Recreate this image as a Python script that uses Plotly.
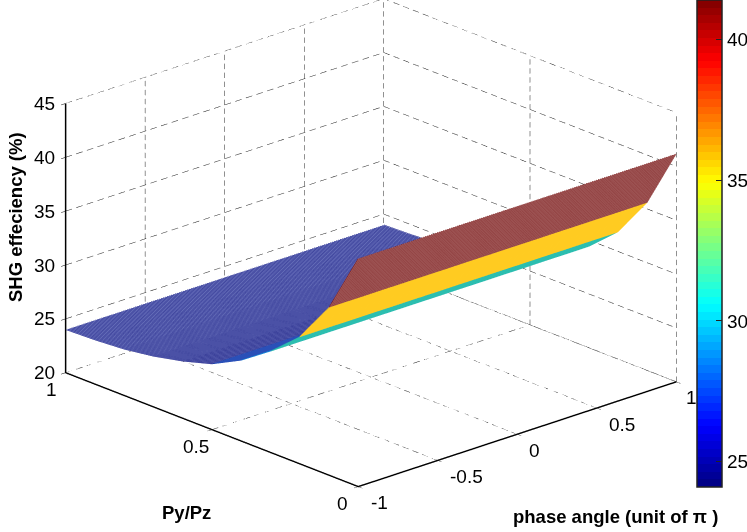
import numpy as np
import plotly.graph_objects as go

phase_ticks = [-1, -0.5, 0, 0.5, 1]
phase_labels = ["-1", "-0.5", "0", "0.5", "1"]
py_ticks = [0, 0.5, 1]
py_labels = ["0", "0.5", "1"]
z_ticks = [20, 25, 30, 35, 40, 45]
cbar_ticks = [25, 30, 35, 40]
py_vals = [0, 0.1, 0.2, 0.3, 0.4, 0.5, 0.6, 0.7, 0.8, 0.9, 1.0]
eff_vals = [41.2, 35.6, 31.8, 29.4, 27.5, 26.1, 25.3, 24.7, 24.3, 24.1, 24.0]
phase_vals = [round(-1 + i * 0.0125, 4) for i in range(161)]
band_fill = ["#9c5252", "#ffcc22", "#2dbfb0", "#2a9fe0", "#4a70cc", "#6a72bc", "#6a72bc", "#6a72bc", "#6a72bc", "#6a72bc"]
band_line = ["#7a1616", "#ffc81a", "#28b5aa", "#1888d8", "#2a50b8", "#2b3090", "#2b3090", "#2b3090", "#2b3090", "#2b3090"]
ZMIN, ZMAX = 24.1, 41.4

def jet_rgb(t):
    r = np.clip(min(4*t-1.5, -4*t+4.5), 0, 1)
    g = np.clip(min(4*t-0.5, -4*t+3.5), 0, 1)
    b = np.clip(min(4*t+0.5, -4*t+2.5), 0, 1)
    return np.array([r, g, b])
def css(c):
    return "rgb(%d,%d,%d)" % tuple(int(v*255) for v in c)
scale = []
for i in range(64):
    c = jet_rgb((i+0.5)/64)
    scale += [[i/64, css(c)], [(i+1)/64, css(c)]]
def steps(cols):
    n = len(cols)
    out = []
    for i, c in enumerate(cols):
        out += [[i/n, c], [(i+1)/n, c]]
    return out
NB = len(band_fill)

rows_y, rows_z, rows_b = [], [], []
for i in range(len(py_vals)-1):
    rows_y += [py_vals[i], py_vals[i+1]-1e-4]
    rows_z += [eff_vals[i], eff_vals[i+1]]
    rows_b += [i, i]
Z = np.tile(np.array(rows_z)[:, None], (1, len(phase_vals)))
C = np.tile(np.array(rows_b, float)[:, None], (1, len(phase_vals)))

fig = go.Figure()

# dashed grid on the floor and the two back walls, drawn as short strokes
gx, gy, gz = [], [], []
def seg(a, b, n=30):
    a, b = np.array(a, float), np.array(b, float)
    for k in range(n):
        p = a + (b-a)*k/n
        q = a + (b-a)*(k+0.6)/n
        gx.extend([p[0], q[0], None]); gy.extend([p[1], q[1], None]); gz.extend([p[2], q[2], None])
for x in phase_ticks:
    seg((x, 0, 20), (x, 1, 20))
    seg((x, 1, 20), (x, 1, 45))
for y in py_ticks:
    seg((-1, y, 20), (1, y, 20))
    seg((1, y, 20), (1, y, 45))
for z in z_ticks:
    seg((-1, 1, z), (1, 1, z))
    seg((1, 1, z), (1, 0, z))
fig.add_trace(go.Scatter3d(x=gx, y=gy, z=gz, mode="lines", showlegend=False, hoverinfo="skip",
                           line=dict(color="#222222", width=1)))

# mesh fill
fig.add_trace(go.Surface(x=phase_vals, y=rows_y, z=Z-0.03, surfacecolor=C, cmin=-0.5, cmax=NB-0.5, showscale=False,
                         colorscale=steps(band_fill), lighting=dict(ambient=1, diffuse=0, specular=0, fresnel=0),
                         contours=dict(x=dict(highlight=False), y=dict(highlight=False), z=dict(highlight=False)),
                         hoverinfo="skip"))

# mesh lines
lx, ly, lz, lc = [], [], [], []
for px in phase_vals:
    for yy, zz, bb in zip(rows_y, rows_z, rows_b):
        lx.append(px); ly.append(yy); lz.append(zz); lc.append(bb)
    lx.append(None); ly.append(None); lz.append(None); lc.append(0)
fig.add_trace(go.Scatter3d(x=lx, y=ly, z=lz, mode="lines", showlegend=False, hoverinfo="skip",
    line=dict(width=1, color=lc, cmin=-0.5, cmax=NB-0.5, colorscale=steps(band_line))))

# colour bar
fig.add_trace(go.Scatter3d(x=[None, None], y=[None, None], z=[None, None], mode="markers", showlegend=False,
    hoverinfo="skip",
    marker=dict(size=1, color=[ZMIN, ZMAX], cmin=ZMIN, cmax=ZMAX, colorscale=scale, showscale=True,
              colorbar=dict(x=697/747, xanchor="left", thickness=25, thicknessmode="pixels",
                            len=487, lenmode="pixels", y=1, yanchor="top", xpad=0, ypad=0,
                            outlinecolor="#222222", outlinewidth=1.5, ticks="inside", ticklen=6,
                            tickcolor="#222222", tickvals=cbar_ticks,
                            tickfont=dict(family="Liberation Sans", size=19, color="black")))))

def axis(rng, vals):
    return dict(range=rng, tickvals=vals, title=dict(text=""), showgrid=False, zeroline=False, showbackground=False,
                showline=True, linecolor="black", linewidth=3, ticks="outside", ticklen=6, tickcolor="black",
                showticklabels=False, showspikes=False)

tick_font = dict(family="Liberation Sans", size=19, color="black")
scene_ann = []
def tick(x, y, z, text, dx, dy):
    scene_ann.append(dict(x=x, y=y, z=z, text=text, showarrow=False, xshift=dx, yshift=-dy, font=tick_font,
                          xanchor="center", yanchor="middle"))
for v in z_ticks:
    tick(-1, 1, v, str(v), -21, 0)
for v, t, dx in zip(py_ticks, py_labels, [-16, -16, -14]):
    tick(-1, v, 20, t, dx, 17)
for v, t, dx in zip(phase_ticks, phase_labels, [21, 29, 17, 25, 15]):
    tick(v, 0, 20, t, dx, 16)

titles = [
    dict(text="<b>SHG effeciency (%)</b>", x=15, y=217, textangle=-90),
    dict(text="<b>Py/Pz</b>", x=186, y=512, textangle=0),
    dict(text="<b>phase angle (unit of π )</b>", x=615, y=516, textangle=0),
]
annotations = [dict(text=t["text"], x=t["x"]/747, y=1-t["y"]/532, xref="paper", yref="paper", showarrow=False,
                    textangle=t["textangle"], xanchor="center", yanchor="middle",
                    font=dict(family="Liberation Sans", size=18.5, color="black")) for t in titles]

Q = 1.625
cz = -0.094
fig.update_layout(
    width=747, height=532, margin=dict(l=0, r=0, t=0, b=0, autoexpand=False), paper_bgcolor="white", showlegend=False,
    annotations=annotations,
    scene=dict(
        domain=dict(x=[0, 0.993], y=[0, 1]),
        annotations=scene_ann,
        xaxis=axis([-1, 1], phase_ticks), yaxis=axis([0, 1], py_ticks), zaxis=axis([20, 45], z_ticks),
        aspectmode="manual", aspectratio=dict(x=Q, y=Q, z=0.667*Q),
        camera=dict(projection=dict(type="orthographic"), up=dict(x=0, y=0, z=1),
                    center=dict(x=0, y=0, z=cz),
                    eye=dict(x=-0.632*1.8, y=-0.687*1.8, z=0.358*1.8+cz)),
    ),
)
fig.write_html("out.html", config={"displayModeBar": False}, post_script="document.body.style.margin='0';")
